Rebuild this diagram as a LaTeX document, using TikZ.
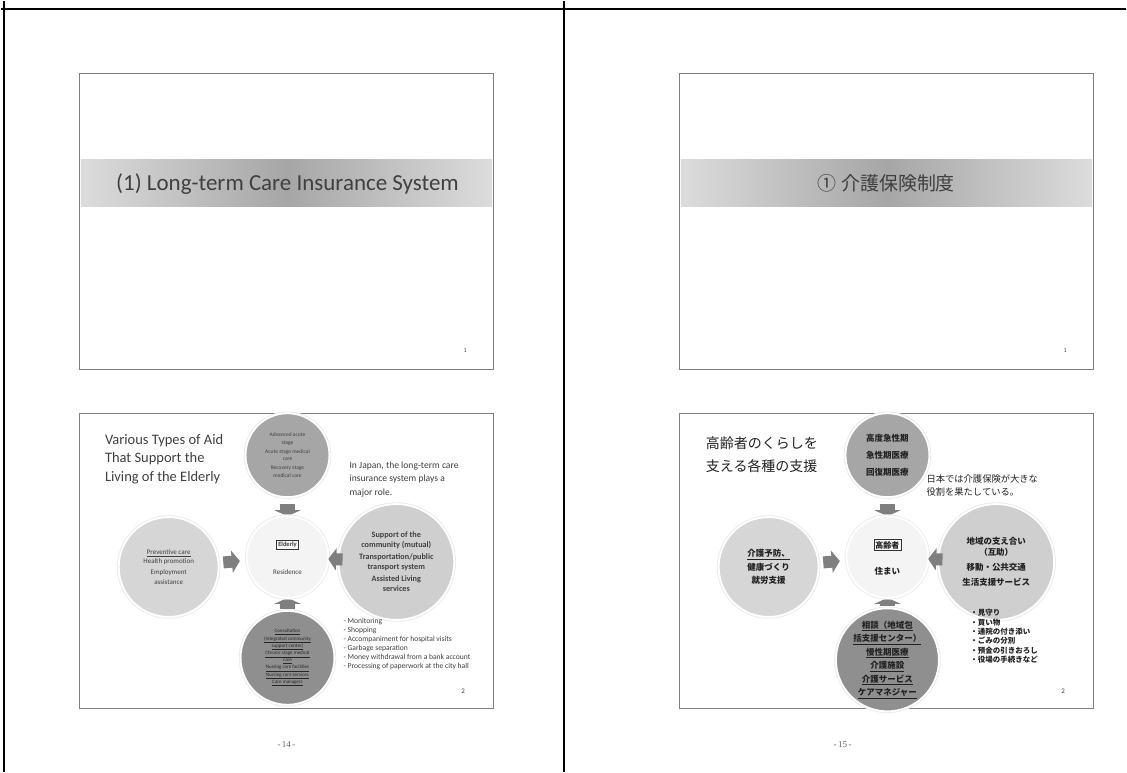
\documentclass[tikz,border=0pt]{standalone}
\usepackage{fontspec}
\setmainfont{Carlito}
\newfontfamily\jp{Noto Sans CJK JP}
\newfontfamily\pgnumfont{Liberation Serif}
\usetikzlibrary{arrows.meta}
\pgfdeclarelayer{back}
\pgfdeclarelayer{bg}
\pgfsetlayers{back,bg,main}
\definecolor{txt}{HTML}{404040}
\definecolor{jtxt}{HTML}{222222}
\definecolor{sborder}{HTML}{808080}
\definecolor{bandedge}{HTML}{DCDCDC}
\definecolor{bandmid}{HTML}{A6A6A6}
\definecolor{ctop}{HTML}{A6A6A6}
\definecolor{cbot}{HTML}{8F8F8F}
\definecolor{cleft}{HTML}{D6D6D6}
\definecolor{cright}{HTML}{CFCFCF}
\definecolor{ccen}{HTML}{F4F4F4}
\definecolor{arr}{HTML}{7F7F7F}
\newcommand\myfs[2]{\fontsize{#1}{#2}\selectfont}
\begin{document}
\begin{tikzpicture}[x=1pt,y=-1pt,
  slide/.style={draw=sborder, line width=0.9pt, minimum width=414pt, minimum height=296pt, inner sep=0pt},
  band/.style={left color=bandedge, right color=bandedge, middle color=bandmid},
  circ/.style={circle, inner sep=0pt, align=center, draw=white, line width=1.8pt, preaction={draw=black!8, line width=3.6pt}},
  vblk/.style={draw=arr, line width=15pt, -{Triangle[width=26pt,length=6pt]}},
  hblk/.style={draw=arr, line width=12pt, -{Triangle[width=22pt,length=8pt]}},
  tx/.style={text=txt, inner sep=0pt},
  jtx/.style={text=jtxt, inner sep=0pt},
  boxlab/.style={draw=black!80, line width=0.7pt, inner sep=1.5pt},
]
\begin{pgfonlayer}{back}
\useasboundingbox (0,0) rectangle (1127,772);
\fill[white] (0,0) rectangle (1127,772);
\end{pgfonlayer}

% page frame
\draw[line width=2pt] (0,8) -- (1127,8);
\draw[line width=1.6pt] (3,0) -- (3,772);
\draw[line width=2pt] (564,0) -- (564,772);

% slides
\node[slide] (s1) at (286,221) {};
\node[slide] (s2) at (887,221) {};
\node[slide] (s3) at (286,561) {};
\node[slide] (s4) at (887,561) {};

% title slides
\shade[band] (80,159) rectangle (492,206);
\node[tx, font=\myfs{23}{26}] (t1) at (287,183) {(1) Long-term Care Insurance System};
\shade[band] (681,159) rectangle (1093,206);
\node[tx, font=\jp\myfs{19}{22}] (t2) at (887,183) {① 介護保険制度};

\node[tx, font=\myfs{6}{7}] (p1) at (465,350) {1};
\node[tx, font=\myfs{6}{7}] (p2) at (1066,350) {1};
\node[tx, font=\myfs{7}{8}] (p3) at (463,691) {2};
\node[tx, font=\myfs{7}{8}] (p4) at (1064,691) {2};

\node[text=black!60, font=\pgnumfont\myfs{9}{10}] (f1) at (286,745) {-\,14\,-};
\node[text=black!60, font=\pgnumfont\myfs{9}{10}] (f2) at (843,745) {-\,15\,-};

% ===== English diagram slide =====
\node[tx, font=\myfs{14.5}{19}, align=left, anchor=west] (h3) at (104,459)
  {Various Types of Aid\\That Support the\\Living of the Elderly};
\node[tx, font=\myfs{9.6}{13.5}, align=left, anchor=west] (n3) at (349,479)
  {In Japan, the long-term care\\insurance system plays a\\major role.};

\node[circ, fill=ctop, minimum size=84pt, text=txt, font=\myfs{5.5}{7.5}] (top) at (287,455)
  {Advanced acute\\stage\\[1.5pt]Acute stage medical\\care\\[1.5pt]Recovery stage\\medical care};
\node[circ, fill=ccen, minimum size=82pt] (cen) at (287,557) {};
\node[circ, fill=cleft, minimum size=100pt, text=txt, font=\myfs{7}{9.5}] (lft) at (168,567)
  {\underline{Preventive care}\\Health promotion\\[1.5pt]Employment\\assistance};
\node[circ, fill=cright, minimum size=116pt, text=txt, font=\bfseries\myfs{8.2}{10}] (rgt) at (396,562)
  {Support of the\\community (mutual)\\[2pt]Transportation/public\\transport system\\[2pt]Assisted Living\\services};
\node[circ, fill=cbot, minimum size=94pt, text=black!85, font=\myfs{5}{7.2}] (bot) at (287,658)
  {\underline{Consultation}\\\underline{(Integrated community}\\\underline{support center)}\\\underline{Chronic stage medical}\\\underline{care}\\\underline{Nursing care facilities}\\\underline{Nursing care services}\\\underline{Care managers}};
\node[boxlab, text=txt, font=\bfseries\myfs{6.5}{8}] (eld) at (287,545) {Elderly};
\node[tx, font=\myfs{7}{8}] (res) at (287,572) {Residence};

\begin{pgfonlayer}{bg}
\draw[vblk, shorten <=6pt, shorten >=-1pt] (top) -- (cen);
\draw[vblk, shorten <=1pt, shorten >=-1pt] (bot) -- (cen);
\end{pgfonlayer}
\draw[hblk, shorten <=4pt, shorten >=6pt] (lft) -- (cen);
\draw[hblk, shorten <=-5pt, shorten >=-1pt] (rgt) -- (cen);

\node[tx, font=\myfs{7.6}{9}, align=left, anchor=north west] (b3) at (343,618)
  {- Monitoring\\- Shopping\\- Accompaniment for hospital visits\\- Garbage separation\\- Money withdrawal from a bank account\\- Processing of paperwork at the city hall};

% ===== Japanese diagram slide =====
\begin{scope}[xshift=601pt]
\node[jtx, font=\jp\myfs{14}{23}, align=left, anchor=west] (jh) at (105,454.5)
  {高齢者のくらしを\\支える各種の支援};
\node[jtx, font=\jp\myfs{9.3}{13}, align=left, anchor=west] (jn) at (326,485.5)
  {日本では介護保険が大きな\\役割を果たしている。};

\node[circ, fill=ctop, minimum size=84pt, text=jtxt, font=\jp\bfseries\myfs{8.5}{13}] (jtop) at (287,455)
  {高度急性期\\[4pt]急性期医療\\[4pt]回復期医療};
\node[circ, fill=ccen, minimum size=82pt] (jcen) at (287,557) {};
\node[circ, fill=cleft, minimum size=100pt, text=jtxt, font=\jp\bfseries\myfs{8.5}{13.5}] (jlft) at (168,567)
  {\underline{介護予防、}\\健康づくり\\就労支援};
\node[circ, fill=cright, minimum size=116pt, text=jtxt, font=\jp\bfseries\myfs{8.5}{11.5}] (jrgt) at (396,562)
  {地域の支え合い\\（互助）\\[3pt]移動・公共交通\\[4pt]生活支援サービス};
\node[circ, fill=cbot, minimum size=94pt, text=jtxt, font=\jp\bfseries\myfs{8.5}{13.5}] (jbot) at (287,660)
  {\underline{相談（地域包}\\\underline{括支援センター）}\\\underline{慢性期医療}\\\underline{介護施設}\\\underline{介護サービス}\\\underline{ケアマネジャー}};
\node[boxlab, text=jtxt, font=\jp\bfseries\myfs{8}{9}] (jeld) at (287,545) {高齢者};
\node[jtx, font=\jp\bfseries\myfs{8.5}{9}] (jres) at (287,571) {住まい};

\begin{pgfonlayer}{bg}
\draw[vblk, shorten <=6pt, shorten >=-1pt] (jtop) -- (jcen);
\draw[vblk, shorten <=1pt, shorten >=-1pt] (jbot) -- (jcen);
\end{pgfonlayer}
\draw[hblk, shorten <=4pt, shorten >=6pt] (jlft) -- (jcen);
\draw[hblk, shorten <=-5pt, shorten >=-1pt] (jrgt) -- (jcen);

\node[jtx, font=\jp\bfseries\myfs{7.5}{9.5}, align=left, anchor=north west] (jb) at (370,609)
  {・見守り\\・買い物\\・通院の付き添い\\・ごみの分別\\・預金の引きおろし\\・役場の手続きなど};
\end{scope}
\end{tikzpicture}
\end{document}
